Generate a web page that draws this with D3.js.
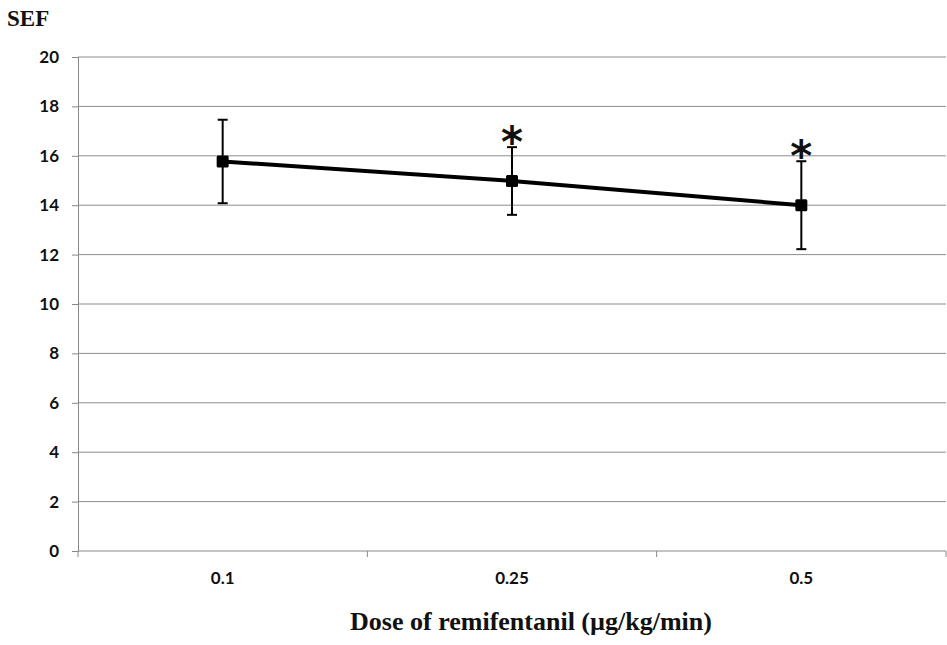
<!DOCTYPE html>
<html>
<head>
<meta charset="utf-8">
<script src="https://cdn.jsdelivr.net/npm/d3@7"></script>
<style>
  body { margin: 0; background: #fff; }
  svg { display: block; }
</style>
</head>
<body>
<div id="chart"></div>
<script>
const doses = ["0.1", "0.25", "0.5"];
const sefMean = [15.77, 14.98, 14.0];
const sefSD = [1.69, 1.37, 1.78];
const significant = [false, true, true];
const yTicks = [0, 2, 4, 6, 8, 10, 12, 14, 16, 18, 20];

const width = 947, height = 645;
const margin = { left: 78, top: 57, right: 1, bottom: 94 };
const labelFont = "Lato, 'Open Sans', sans-serif";
const titleFont = "'Liberation Serif', 'Times New Roman', serif";

const svg = d3.select("#chart").append("svg")
  .attr("width", width)
  .attr("height", height);

const x = d3.scaleBand()
  .domain(doses)
  .range([margin.left, width - margin.right])
  .padding(0);

const y = d3.scaleLinear()
  .domain([0, 20])
  .range([height - margin.bottom, margin.top]);

// gridlines
svg.append("g").selectAll("line")
  .data(yTicks.filter((d) => d > 0))
  .join("line")
  .attr("x1", margin.left)
  .attr("x2", width - margin.right)
  .attr("y1", (d) => y(d))
  .attr("y2", (d) => y(d))
  .attr("stroke", "#8c8c8c")
  .attr("stroke-width", 1);

// y axis
const yAxis = svg.append("g")
  .attr("transform", `translate(${margin.left},0)`)
  .call(d3.axisLeft(y).tickValues(yTicks).tickSize(6).tickPadding(13)
    .tickFormat(d3.format("d")));
yAxis.select(".domain").attr("stroke", "#888");
yAxis.selectAll(".tick line").attr("stroke", "#888");
yAxis.selectAll(".tick text")
  .attr("font-family", labelFont)
  .attr("font-weight", "bold")
  .attr("font-size", 17)
  .attr("fill", "#111");

// x axis, ticks between categories
const xAxisG = svg.append("g")
  .attr("transform", `translate(0,${y(0)})`);
xAxisG.append("line")
  .attr("x1", margin.left)
  .attr("x2", width - margin.right)
  .attr("stroke", "#888");
xAxisG.selectAll(".sep")
  .data(doses)
  .join("line")
  .attr("class", "sep")
  .attr("x1", (d) => x(d) + x.bandwidth())
  .attr("x2", (d) => x(d) + x.bandwidth())
  .attr("y1", 0)
  .attr("y2", 6)
  .attr("stroke", "#888");
xAxisG.append("line")
  .attr("x1", margin.left).attr("x2", margin.left)
  .attr("y1", 0).attr("y2", 6)
  .attr("stroke", "#888");
xAxisG.selectAll(".lbl")
  .data(doses)
  .join("text")
  .attr("class", "lbl")
  .attr("x", (d) => x(d) + x.bandwidth() / 2)
  .attr("y", 33)
  .attr("text-anchor", "middle")
  .attr("font-family", labelFont)
  .attr("font-weight", "bold")
  .attr("font-size", 17)
  .attr("fill", "#111")
  .text((d) => d);

const cx = (i) => x(doses[i]) + x.bandwidth() / 2;
const pts = doses.map((d, i) => ({ i, m: sefMean[i], sd: sefSD[i], sig: significant[i] }));

// error bars
const eb = svg.append("g").attr("stroke", "#000").attr("stroke-width", 2);
eb.selectAll(".v").data(pts).join("line")
  .attr("x1", (d) => cx(d.i)).attr("x2", (d) => cx(d.i))
  .attr("y1", (d) => y(d.m - d.sd)).attr("y2", (d) => y(d.m + d.sd));
eb.selectAll(".top").data(pts).join("line")
  .attr("x1", (d) => cx(d.i) - 5).attr("x2", (d) => cx(d.i) + 5)
  .attr("y1", (d) => y(d.m + d.sd)).attr("y2", (d) => y(d.m + d.sd));
eb.selectAll(".bot").data(pts).join("line")
  .attr("x1", (d) => cx(d.i) - 5).attr("x2", (d) => cx(d.i) + 5)
  .attr("y1", (d) => y(d.m - d.sd)).attr("y2", (d) => y(d.m - d.sd));

// mean line
svg.append("path")
  .datum(pts)
  .attr("d", d3.line().x((d) => cx(d.i)).y((d) => y(d.m)))
  .attr("fill", "none")
  .attr("stroke", "#000")
  .attr("stroke-width", 4);

svg.selectAll(".marker").data(pts).join("rect")
  .attr("class", "marker")
  .attr("x", (d) => cx(d.i) - 6)
  .attr("y", (d) => y(d.m) - 6)
  .attr("width", 12)
  .attr("height", 12)
  .attr("rx", 1.5)
  .attr("fill", "#000");

// significance stars
svg.selectAll(".star").data(pts.filter((d) => d.sig)).join("text")
  .attr("class", "star")
  .attr("x", (d) => cx(d.i))
  .attr("y", (d) => y(d.m + d.sd) + 10)
  .attr("text-anchor", "middle")
  .attr("font-family", "'DejaVu Sans', sans-serif")
  .attr("font-weight", "bold")
  .attr("font-size", 42)
  .attr("fill", "#111")
  .text("*");

// titles
svg.append("text")
  .attr("x", 7)
  .attr("y", 26)
  .attr("font-family", titleFont)
  .attr("font-weight", "bold")
  .attr("font-size", 23)
  .attr("fill", "#111")
  .text("SEF");

svg.append("text")
  .attr("x", 531)
  .attr("y", 630)
  .attr("text-anchor", "middle")
  .attr("font-family", titleFont)
  .attr("font-weight", "bold")
  .attr("font-size", 26)
  .attr("fill", "#111")
  .text("Dose of remifentanil (µg/kg/min)");
</script>
</body>
</html>
